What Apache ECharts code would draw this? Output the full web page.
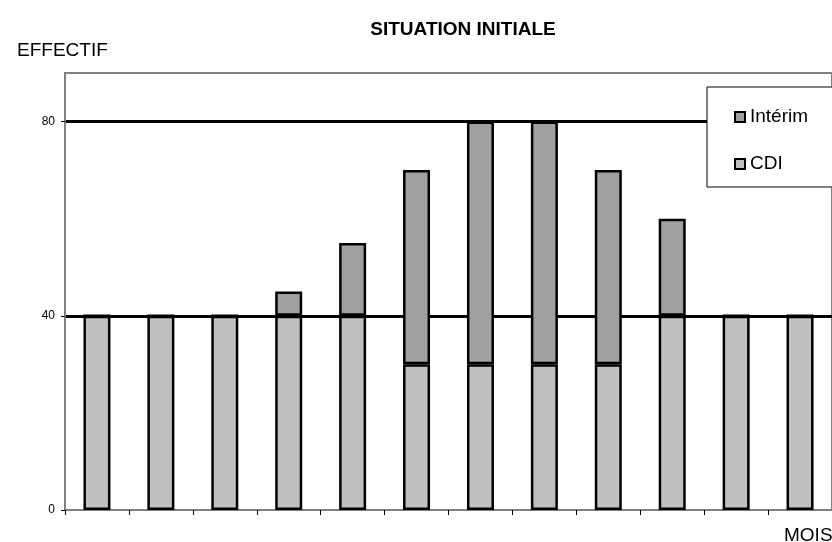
<!DOCTYPE html>
<html>
<head>
<meta charset="utf-8">
<script src="https://cdn.jsdelivr.net/npm/echarts@6/dist/echarts.min.js"></script>
<style>html,body{margin:0;padding:0;background:#fff}#c{width:832px;height:542px}</style>
</head>
<body>
<div id="c"></div>
<script>
const months = ['1','2','3','4','5','6','7','8','9','10','11','12'];
const cdi = [40,40,40,40,40,30,30,30,30,40,40,40];
const interim = [0,0,0,5,15,40,50,50,40,20,0,0];
const yTicks = [0,40,80];

const FONT = '"Liberation Sans", Arial, sans-serif';
const chart = echarts.init(document.getElementById('c'), null, {renderer:'canvas'});
chart.setOption({
  animation:false,
  backgroundColor:'#fff',
  title:[
    {text:'SITUATION INITIALE', left:458, top:15, textAlign:'center',
     textStyle:{fontFamily:FONT, fontSize:19, fontWeight:'bold', color:'#000'}},
    {text:'EFFECTIF', left:12, top:36,
     textStyle:{fontFamily:FONT, fontSize:19, fontWeight:'normal', color:'#000'}},
    {text:'MOIS', left:779, top:521,
     textStyle:{fontFamily:FONT, fontSize:19, fontWeight:'normal', color:'#000'}}
  ],
  legend:{
    orient:'vertical', left:707, top:87,
    data:['Intérim','CDI'],
    padding:[20,60,13,27], itemGap:27, itemWidth:10, itemHeight:10,
    borderColor:'#000', borderWidth:1, backgroundColor:'#fff',
    textStyle:{fontFamily:FONT, fontSize:19, lineHeight:20, color:'#000'},
    icon:'rect'
  },
  grid:{left:65, right:-7, top:73, bottom:32, show:true, borderColor:'#808080', borderWidth:2},
  xAxis:{
    type:'category', data:months, boundaryGap:true,
    axisLine:{lineStyle:{color:'#808080', width:2}},
    axisTick:{show:true, length:5, lineStyle:{color:'#000'}},
    axisLabel:{show:false}
  },
  yAxis:{
    type:'value', min:0, max:90, interval:40,
    axisLine:{show:true, lineStyle:{color:'#808080', width:2}},
    axisTick:{show:true, length:4, lineStyle:{color:'#000'}},
    axisLabel:{showMaxLabel:false, fontFamily:FONT, fontSize:12, color:'#000', margin:10,
      formatter:v=>yTicks.includes(v)?String(v):''},
    splitLine:{show:true, showMinLine:false, showMaxLine:false, lineStyle:{color:'#000', width:3}}
  },
  series:[
    {name:'CDI', type:'bar', stack:'t', data:cdi, barWidth:27,
     itemStyle:{color:'#c0c0c0', borderColor:'#000', borderWidth:2.5}},
    {name:'Intérim', type:'bar', stack:'t', data:interim, barWidth:27,
     itemStyle:{color:'#a0a0a0', borderColor:'#000', borderWidth:2.5}}
  ]
});
</script>
</body>
</html>
